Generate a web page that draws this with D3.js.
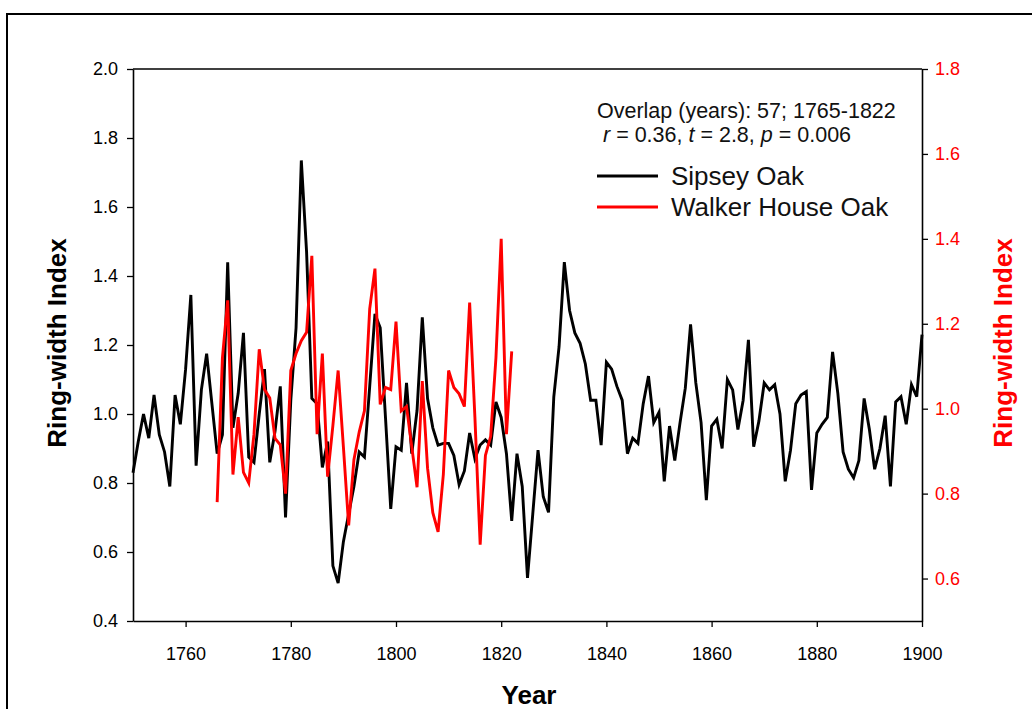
<!DOCTYPE html>
<html>
<head>
<meta charset="utf-8">
<script src="https://cdn.jsdelivr.net/npm/d3@7"></script>
<style>
  html, body { margin: 0; padding: 0; background: #fff; }
  svg { display: block; font-family: "Liberation Sans", Arial, sans-serif; }
</style>
</head>
<body>
<script>

// Sipsey Oak ring-width index, one value per year from 1750 to 1900
var sipseyStart = 1750;
var sipseyValues = [
  0.83, 0.92, 1.00, 0.93, 1.055, 0.94, 0.89, 0.79, 1.055, 0.97,
  1.13, 1.345, 0.85, 1.07, 1.175, 1.03, 0.885, 0.94, 1.44, 0.96,
  1.06, 1.235, 0.875, 0.86, 1.00, 1.13, 0.86, 0.95, 1.08, 0.70,
  1.04, 1.25, 1.735, 1.47, 1.045, 1.03, 0.845, 0.92, 0.56, 0.51,
  0.63, 0.71, 0.79, 0.89, 0.875, 1.08, 1.29, 1.25, 0.99, 0.725,
  0.905, 0.895, 1.09, 0.885, 1.01, 1.28, 1.045, 0.96, 0.91, 0.915,
  0.915, 0.88, 0.795, 0.835, 0.945, 0.87, 0.91, 0.925, 0.91, 1.035,
  0.99, 0.885, 0.69, 0.885, 0.79, 0.525, 0.71, 0.895, 0.76, 0.715,
  1.05, 1.195, 1.44, 1.30, 1.235, 1.205, 1.145, 1.04, 1.04, 0.91,
  1.15, 1.13, 1.08, 1.04, 0.885, 0.93, 0.915, 1.03, 1.11, 0.975,
  1.005, 0.805, 0.965, 0.865, 0.975, 1.075, 1.26, 1.09, 0.975, 0.75,
  0.965, 0.985, 0.90, 1.10, 1.07, 0.955, 1.04, 1.215, 0.905, 0.98,
  1.09, 1.07, 1.085, 1.00, 0.805, 0.895, 1.03, 1.055, 1.065, 0.78,
  0.945, 0.97, 0.99, 1.18, 1.06, 0.89, 0.84, 0.815, 0.865, 1.045,
  0.955, 0.84, 0.90, 0.995, 0.79, 1.035, 1.05, 0.97, 1.085, 1.05,
  1.23
];

// Walker House Oak ring-width index, 1766 to 1822 (right axis)
var walkerStart = 1766;
var walkerValues = [
  0.78, 1.12, 1.255, 0.845, 0.98, 0.85, 0.825, 0.94, 1.14, 1.045,
  1.025, 0.93, 0.915, 0.80, 1.09, 1.13, 1.16, 1.18, 1.36, 0.94,
  1.13, 0.84, 0.96, 1.09, 0.91, 0.725, 0.88, 0.945, 0.995, 1.235,
  1.33, 1.01, 1.05, 1.045, 1.205, 0.995, 1.005, 0.91, 0.815, 1.065,
  0.86, 0.755, 0.71, 0.845, 1.09, 1.05, 1.035, 1.005, 1.25, 0.98,
  0.68, 0.89, 0.935, 1.12, 1.40, 0.94, 1.135
];

var yearTicks = [ 1760, 1780, 1800, 1820, 1840, 1860, 1880, 1900 ];
var leftTicks = [ 0.4, 0.6, 0.8, 1.0, 1.2, 1.4, 1.6, 1.8, 2.0 ];
var rightTicks = [ 0.6, 0.8, 1.0, 1.2, 1.4, 1.6, 1.8 ];
var seriesNames = [ "Sipsey Oak", "Walker House Oak" ];
var seriesColors = [ "#000000", "#ff0000" ];
var statsLines = [ "Overlap (years): 57; 1765-1822" ];

var width = 1032;
var height = 709;
var plot = { left: 133, right: 922, top: 69, bottom: 621 };

var svg = d3.select( "body" ).append( "svg" )
  .attr( "width", width )
  .attr( "height", height );

// outer figure frame (cut off at the right and bottom edges)
svg.append( "path" )
  .attr( "d", "M7," + ( height + 5 ) + "V14H" + ( width + 5 ) )
  .attr( "fill", "none" )
  .attr( "stroke", "#000" )
  .attr( "stroke-width", 2 );

var x = d3.scaleLinear().domain( [ 1750, 1900 ] ).range( [ plot.left, plot.right ] );
var yLeft = d3.scaleLinear().domain( [ 0.4, 2.0 ] ).range( [ plot.bottom, plot.top ] );
var yRight = d3.scaleLinear().domain( [ 0.5, 1.8 ] ).range( [ plot.bottom, plot.top ] );

// plot box top edge
svg.append( "line" )
  .attr( "x1", plot.left ).attr( "x2", plot.right )
  .attr( "y1", plot.top ).attr( "y2", plot.top )
  .attr( "stroke", "#000" ).attr( "stroke-width", 1.5 );

function styleAxis( g, color ) {
  g.select( ".domain" ).attr( "stroke", color ).attr( "stroke-width", 1.6 );
  g.selectAll( ".tick line" ).attr( "stroke", color ).attr( "stroke-width", 1.3 );
  g.selectAll( ".tick text" )
    .attr( "fill", color )
    .style( "font-size", "18px" )
    .style( "font-family", "'Liberation Sans', Arial, sans-serif" );
}

var xAxis = svg.append( "g" )
  .attr( "transform", "translate(0," + plot.bottom + ")" )
  .call( d3.axisBottom( x ).tickValues( yearTicks ).tickFormat( d3.format( "d" ) )
    .tickSizeInner( 6 ).tickSizeOuter( 0 ).tickPadding( 20 ) );
styleAxis( xAxis, "#000" );

var leftAxis = svg.append( "g" )
  .attr( "transform", "translate(" + plot.left + ",0)" )
  .call( d3.axisLeft( yLeft ).tickValues( leftTicks ).tickFormat( d3.format( ".1f" ) )
    .tickSizeInner( 6 ).tickSizeOuter( 0 ).tickPadding( 9 ) );
styleAxis( leftAxis, "#000" );

var rightAxis = svg.append( "g" )
  .attr( "transform", "translate(" + plot.right + ",0)" )
  .call( d3.axisRight( yRight ).tickValues( rightTicks ).tickFormat( d3.format( ".1f" ) )
    .tickSizeInner( 6 ).tickSizeOuter( 0 ).tickPadding( 7 ) );
styleAxis( rightAxis, "#000" );
rightAxis.selectAll( ".tick text" ).attr( "fill", "#ff0000" );

// series
var sipsey = sipseyValues.map( function( v, i ) {
  return { year: sipseyStart + i, value: v };
} );
var walker = walkerValues.map( function( v, i ) {
  return { year: walkerStart + i, value: v };
} );

var lineLeft = d3.line()
  .x( function( d ) { return x( d.year ); } )
  .y( function( d ) { return yLeft( d.value ); } );
var lineRight = d3.line()
  .x( function( d ) { return x( d.year ); } )
  .y( function( d ) { return yRight( d.value ); } );

svg.append( "path" )
  .datum( sipsey )
  .attr( "d", lineLeft )
  .attr( "fill", "none" )
  .attr( "stroke", seriesColors[ 0 ] )
  .attr( "stroke-width", 2.9 )
  .attr( "stroke-linejoin", "miter" );

svg.append( "path" )
  .datum( walker )
  .attr( "d", lineRight )
  .attr( "fill", "none" )
  .attr( "stroke", seriesColors[ 1 ] )
  .attr( "stroke-width", 2.9 )
  .attr( "stroke-linejoin", "miter" );

// stats text
var stats = svg.append( "g" ).style( "font-size", "21.5px" ).attr( "fill", "#111" );
stats.append( "text" ).attr( "x", 597 ).attr( "y", 118 ).text( statsLines[ 0 ] );
var t2 = stats.append( "text" ).attr( "x", 597 ).attr( "y", 142 ).attr( "xml:space", "preserve" );
t2.append( "tspan" ).text( " " );
t2.append( "tspan" ).style( "font-style", "italic" ).text( "r" );
t2.append( "tspan" ).text( " = 0.36, " );
t2.append( "tspan" ).style( "font-style", "italic" ).text( "t" );
t2.append( "tspan" ).text( " = 2.8, " );
t2.append( "tspan" ).style( "font-style", "italic" ).text( "p" );
t2.append( "tspan" ).text( " = 0.006" );

// legend
var legend = svg.append( "g" ).selectAll( "g" )
  .data( seriesNames )
  .enter().append( "g" )
  .attr( "transform", function( d, i ) { return "translate(597," + ( 176 + i * 31 ) + ")"; } );
legend.append( "line" )
  .attr( "x1", 0 ).attr( "x2", 61 )
  .attr( "stroke", function( d, i ) { return seriesColors[ i ]; } )
  .attr( "stroke-width", 2.9 );
legend.append( "text" )
  .attr( "x", 74 ).attr( "y", 9 )
  .style( "font-size", "26px" )
  .attr( "fill", "#111" )
  .text( function( d ) { return d; } );

// axis titles
svg.append( "text" )
  .attr( "transform", "translate(66,343) rotate(-90)" )
  .attr( "text-anchor", "middle" )
  .style( "font-size", "26px" ).style( "font-weight", "bold" )
  .text( "Ring-width Index" );

svg.append( "text" )
  .attr( "transform", "translate(1012,343) rotate(-90)" )
  .attr( "text-anchor", "middle" )
  .attr( "fill", "#ff0000" )
  .style( "font-size", "26px" ).style( "font-weight", "bold" )
  .text( "Ring-width Index" );

svg.append( "text" )
  .attr( "x", 529 ).attr( "y", 704 )
  .attr( "text-anchor", "middle" )
  .style( "font-size", "26px" ).style( "font-weight", "bold" )
  .text( "Year" );

</script>
</body>
</html>
